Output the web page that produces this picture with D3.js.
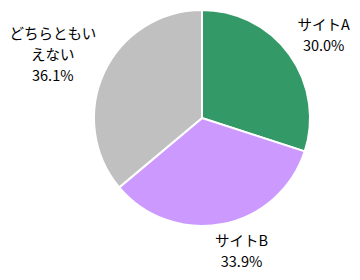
<!DOCTYPE html>
<html>
<head>
<meta charset="utf-8">
<script src="https://cdn.jsdelivr.net/npm/d3@7"></script>
<style>
  body { margin: 0; background: #fff; }
  text { font-family: "Noto Sans CJK JP", sans-serif; font-size: 14.5px; fill: #000; }
</style>
</head>
<body>
<div id="chart"></div>
<script>
var categories = ["サイトA", "サイトB", "どちらともいえない"];
var labelLines = [["サイトA"], ["サイトB"], ["どちらともい", "えない"]];
var values = [30.0, 33.9, 36.1];
var colors = ["#339966", "#cc99ff", "#c0c0c0"];

var width = 360, height = 280;
var cx = 202, cy = 118, radius = 108;
// small hand nudges so labels sit where the original placed them
var nudge = [[5, -1], [12, -3], [-3, 0]];

var svg = d3.select("#chart").append("svg")
  .attr("width", width)
  .attr("height", height);

var g = svg.append("g")
  .attr("transform", `translate(${cx}, ${cy})`);

var data = categories.map(function(c, i) {
  return { name: c, value: values[i], lines: labelLines[i], color: colors[i], nudge: nudge[i] };
});

var pie = d3.pie().sort(null).value(d => d.value);
var arc = d3.arc().innerRadius(0).outerRadius(radius);

var arcs = pie(data);

g.selectAll("path")
  .data(arcs).enter()
  .append("path")
  .attr("d", arc)
  .attr("fill", d => d.data.color)
  .attr("stroke", "#fff")
  .attr("stroke-width", 2);

// labels outside the pie, pushed out by half the box size
var lineH = 21;
var gap = 10;
var labels = g.selectAll(".label")
  .data(arcs).enter()
  .append("g")
  .attr("class", "label");

labels.each(function(d) {
  var sel = d3.select(this);
  var lines = d.data.lines.concat([d3.format(".1f")(d.data.value) + "%"]);
  var t = sel.append("text").attr("text-anchor", "middle");
  lines.forEach(function(l, i) {
    t.append("tspan")
      .attr("x", 0)
      .attr("y", (i - (lines.length - 1) / 2) * lineH)
      .attr("dy", "0.35em")
      .text(l);
  });
  var box = t.node().getBBox();
  var a = (d.startAngle + d.endAngle) / 2;
  var sx = Math.sin(a), sy = -Math.cos(a);
  var x = sx * (radius + gap) + sx * box.width / 2 + d.data.nudge[0];
  var y = sy * (radius + gap) + sy * box.height / 2 + d.data.nudge[1];
  sel.attr("transform", `translate(${x}, ${y})`);
});
</script>
</body>
</html>
